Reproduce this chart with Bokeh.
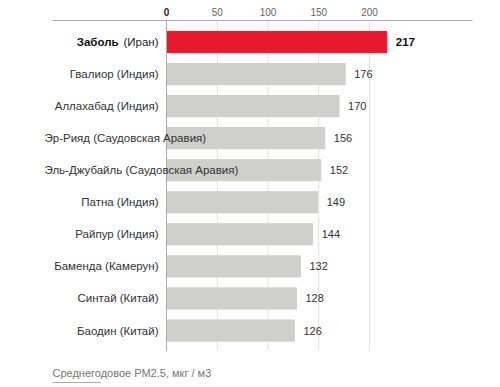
from bokeh.plotting import figure
from bokeh.models import Range1d, ColumnDataSource
from bokeh.core.properties import value
from bokeh.embed import file_html
from bokeh.resources import INLINE

# ---- data ----
cities = ["Заболь", "Гвалиор", "Аллахабад", "Эр-Рияд", "Эль-Джубайль",
          "Патна", "Райпур", "Баменда", "Синтай", "Баодин"]
countries = ["Иран", "Индия", "Индия", "Саудовская Аравия", "Саудовская Аравия",
             "Индия", "Индия", "Камерун", "Китай", "Китай"]
pm25 = [217, 176, 170, 156, 152, 149, 144, 132, 128, 126]
ticks = [0, 50, 100, 150, 200]
tick_labels = ["0", "50", "100", "150", "200"]
axis_title = "Среднегодовое РМ2.5, мкг / м3"

# ---- layout constants (pixels on canvas) ----
W, H = 500, 387
X0 = 166.0          # pixel of value 0
PX_PER_UNIT = 1.015
Y0 = 41.5           # pixel center of first bar
ROW = 32.06         # pixels per row

def xd(px):
    return (px - X0) / PX_PER_UNIT

def yd(py):
    return (py - Y0) / ROW

FONT = "Liberation Sans"

p = figure(width=W, height=H, output_backend="svg", toolbar_location=None,
           x_range=Range1d(xd(0), xd(W)), y_range=Range1d(yd(H), yd(0)),
           min_border=0, x_axis_location=None, y_axis_location=None)
p.outline_line_color = None
p.xgrid.visible = False
p.ygrid.visible = False
p.background_fill_color = "white"
p.border_fill_color = "white"

n = len(cities)
idx = list(range(n))
colors = ["#e8192c"] + ["#cfcfcd"] * (n - 1)

# grid lines
grid_top, grid_bot = yd(20), yd(350)
p.segment(x0=ticks[1:], x1=ticks[1:], y0=[grid_top] * (len(ticks) - 1),
          y1=[grid_bot] * (len(ticks) - 1), line_color="#e2e2e2", line_width=1)

# bars
src = ColumnDataSource(dict(y=idx, right=pm25, color=colors))
p.hbar(y="y", left=0, right="right", height=0.66, color="color", source=src)

# zero line and top line
p.segment(x0=[0], x1=[0], y0=[grid_top], y1=[grid_bot], line_color="#aaaaaa", line_width=1)
p.segment(x0=[xd(52)], x1=[xd(472)], y0=[grid_top], y1=[grid_top], line_color="#aaaaaa", line_width=1)

# tick labels
tick_y = yd(11.5)
p.text(x=ticks[:1], y=[tick_y], text=tick_labels[:1], text_align="center",
       text_baseline="middle", text_font=value(FONT), text_font_size="10px",
       text_font_style="bold", text_color="#222222")
p.text(x=ticks[1:], y=[tick_y] * (len(ticks) - 1), text=tick_labels[1:], text_align="center",
       text_baseline="middle", text_font=value(FONT), text_font_size="10px",
       text_color="#666666")

# category labels
for i, (c, k) in enumerate(zip(cities, countries)):
    if i == 0:
        p.text(x=[0], y=[i], text=["(" + k + ")"], x_offset=-8, text_align="right",
               text_baseline="middle", text_font=value(FONT), text_font_size="11.5px",
               text_color="#222222")
        p.text(x=[0], y=[i], text=[c], x_offset=-48, text_align="right",
               text_baseline="middle", text_font=value(FONT), text_font_size="11.5px",
               text_font_style="bold", text_color="#111111")
    else:
        label = c + " (" + k + ")"
        if len(label) > 24:
            p.text(x=[0], y=[i], text=[label], x_offset=-122, text_align="left",
                   text_baseline="middle", text_font=value(FONT), text_font_size="11.5px",
                   text_color="#333333")
        else:
            p.text(x=[0], y=[i], text=[label], x_offset=-8, text_align="right",
                   text_baseline="middle", text_font=value(FONT), text_font_size="11.5px",
                   text_color="#333333")

# value labels
p.text(x=pm25[:1], y=idx[:1], text=[str(v) for v in pm25[:1]], x_offset=9,
       text_align="left", text_baseline="middle", text_font=value(FONT),
       text_font_size="11.5px", text_font_style="bold", text_color="#111111")
p.text(x=pm25[1:], y=idx[1:], text=[str(v) for v in pm25[1:]], x_offset=9,
       text_align="left", text_baseline="middle", text_font=value(FONT),
       text_font_size="11px", text_color="#333333")

# axis title and underline
p.text(x=[xd(52)], y=[yd(372)], text=[axis_title], text_align="left",
       text_baseline="middle", text_font=value(FONT), text_font_size="11px",
       text_color="#777777")
p.segment(x0=[xd(52)], x1=[xd(100)], y0=[yd(382)], y1=[yd(382)], line_color="#aaaaaa", line_width=1)

open("out.html", "w").write(file_html(p, INLINE))
